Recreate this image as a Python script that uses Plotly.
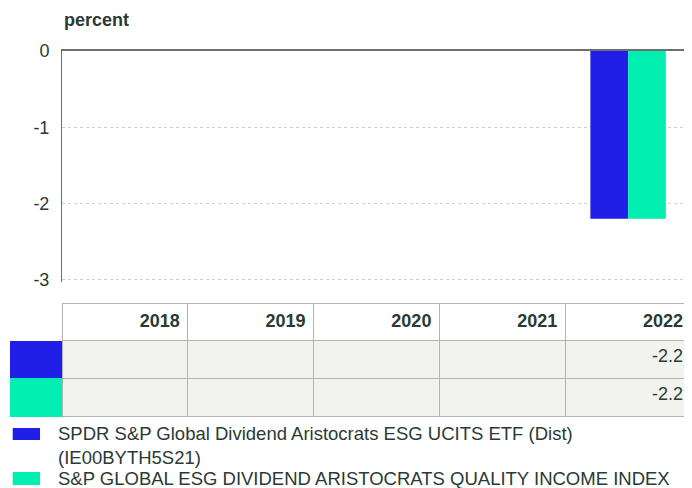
import plotly.graph_objects as go

# Figure size (the page adds an 8px body margin, so layout positions are 8px less than on screen)
W, H = 692, 488

years = ["2018", "2019", "2020", "2021", "2022"]
fund_values = [None, None, None, None, -2.2]
index_values = [None, None, None, None, -2.2]
series_names = [
    "SPDR S&P Global Dividend Aristocrats ESG UCITS ETF (Dist)<br>(IE00BYTH5S21)",
    "S&P GLOBAL ESG DIVIDEND ARISTOCRATS QUALITY INCOME INDEX",
]
y_ticks = [0, -1, -2, -3]
y_tick_labels = ["0", "-1", "-2", "-3"]

BLUE = "#1f1fe8"
GREEN = "#00eeb0"
TEXT = "#2a3a34"
GRID = "#cfcfcf"
LINE = "#6e6e6e"
CELL = "#f2f2ee"
BORDER = "#b4b4b4"
FONT = "Liberation Sans, Arial, sans-serif"
colors = [BLUE, GREEN]

RIGHT = 683  # right edge of plot/table in layout px

fig = go.Figure()
for name, vals, col in zip(series_names, [fund_values, index_values], colors):
    fig.add_trace(go.Bar(x=years, y=vals, name=name, marker=dict(color=col, line=dict(width=0)),
                         xaxis="x", yaxis="y", showlegend=False))

def fmt(v):
    return "" if v is None else f"{v:.1f}"

cols = [["", ""]]
for i in range(len(years)):
    cols.append([fmt(fund_values[i]), fmt(index_values[i])])

col_w = (RIGHT - 54) / len(years)

fig.add_trace(go.Table(
    domain=dict(x=[2 / W, RIGHT / W], y=[1 - 412 / H, 1 - 295 / H]),
    columnwidth=[52] + [col_w] * len(years),
    header=dict(
        values=[""] + ["<b>%s</b>" % y for y in years],
        align="right",
        height=37,
        fill=dict(color="white"),
        line=dict(color=["white"] + [BORDER] * len(years), width=1),
        font=dict(family=FONT, size=18, color=TEXT),
    ),
    cells=dict(
        values=cols,
        align="right",
        height=38,
        fill=dict(color=[[c for c in colors]] + [[CELL, CELL]] * len(years)),
        line=dict(color=[[c for c in colors]] + [[BORDER, BORDER]] * len(years), width=1),
        font=dict(family=FONT, size=18, color=TEXT),
    ),
))

# custom legend (swatch rectangles + real text)
legend_swatch_y = [(420, 432), (464, 477)]
legend_text_y = [437, 470]
shapes = []
annotations = [dict(text="<b>percent</b>", x=54 / W, y=1 - 12 / H, xref="paper", yref="paper",
                    xanchor="left", yanchor="middle", showarrow=False,
                    font=dict(family=FONT, size=18, color=TEXT))]
for name, col, (y0, y1), ty in zip(series_names, colors, legend_swatch_y, legend_text_y):
    shapes.append(dict(type="rect", xref="paper", yref="paper",
                       x0=4.7 / W, x1=32 / W, y0=1 - y1 / H, y1=1 - y0 / H,
                       fillcolor=col, line=dict(width=0)))
    annotations.append(dict(text=name, x=48 / W, y=1 - ty / H, xref="paper", yref="paper",
                            xanchor="left", yanchor="middle", align="left", showarrow=False,
                            font=dict(family=FONT, size=18.5, color=TEXT)))

fig.update_layout(
    width=W, height=H,
    margin=dict(l=0, r=0, t=0, b=0, pad=0, autoexpand=False),
    paper_bgcolor="white", plot_bgcolor="white",
    font=dict(family=FONT, size=18, color=TEXT),
    barmode="group", bargap=0.4, bargroupgap=0,
    xaxis=dict(domain=[54 / W, RIGHT / W], type="category", range=[-0.5, 4.5],
               showticklabels=False, showgrid=False, zeroline=False,
               side="top", showline=True, linecolor=LINE, linewidth=1.5, ticks=""),
    yaxis=dict(domain=[1 - 274 / H, 1 - 43 / H], range=[-3.03, 0],
               tickvals=y_ticks, ticktext=y_tick_labels,
               showgrid=True, gridcolor=GRID, griddash="dot", gridwidth=1,
               zeroline=False, showline=True, linecolor=LINE, linewidth=1,
               ticks="", ticklabelstandoff=8,
               tickfont=dict(family=FONT, size=18, color=TEXT)),
    showlegend=False,
    shapes=shapes,
    annotations=annotations,
)

fig.write_html("out.html")
